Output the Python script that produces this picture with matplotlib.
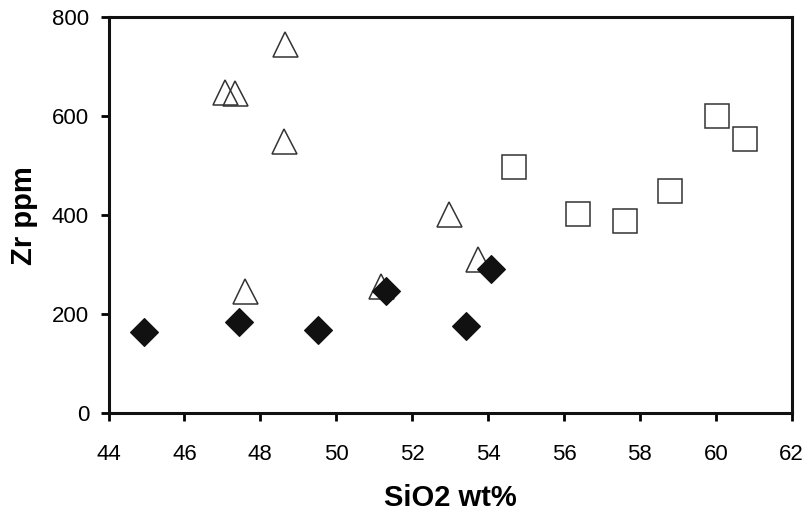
"""Zr vs SiO2 scatter for three rock groups."""

from matplotlib import pyplot as plt

plt.rcParams["font.family"] = ["Liberation Sans", "DejaVu Sans"]

# filled diamonds
diamond_sio2 = [44.93, 47.44, 49.52, 51.30, 53.43, 54.09]
diamond_zr = [163, 185, 168, 247, 176, 292]

# open triangles
triangle_sio2 = [48.66, 47.08, 47.34, 48.63, 47.59, 51.18, 52.97, 53.74]
triangle_zr = [745, 648, 647, 549, 246, 257, 402, 312]

# open squares
square_sio2 = [54.69, 56.37, 57.61, 58.80, 60.02, 60.76]
square_zr = [498, 402, 388, 448, 600, 554]

x_ticks = [44, 46, 48, 50, 52, 54, 56, 58, 60, 62]
y_ticks = [0, 200, 400, 600, 800]

figure = plt.figure(figsize=(8.11, 5.13), dpi=100)
axis = figure.add_axes([0.1338, 0.1949, 0.8424, 0.7714])

axis.plot(triangle_sio2, triangle_zr, linestyle="none", marker="^", markersize=18,
          markerfacecolor="none", markeredgecolor="#333333", markeredgewidth=1.1)
axis.plot(square_sio2, square_zr, linestyle="none", marker="s", markersize=17,
          markerfacecolor="none", markeredgecolor="#333333", markeredgewidth=1.1)
axis.plot(diamond_sio2, diamond_zr, linestyle="none", marker="D", markersize=14,
          markerfacecolor="#111111", markeredgecolor="#111111", markeredgewidth=0.8)

axis.set_xlim(44, 62)
axis.set_ylim(0, 800)
axis.set_xticks(x_ticks)
axis.set_yticks(y_ticks)
axis.tick_params(axis="both", direction="out", length=6, width=2, labelsize=16)
axis.tick_params(axis="x", pad=16)
axis.tick_params(axis="y", pad=8)
for spine in axis.spines.values():
    spine.set_linewidth(2.2)
    spine.set_color("#111111")

axis.set_xlabel("SiO2 wt%", fontsize=21, fontweight="bold", labelpad=14)
axis.set_ylabel("Zr ppm", fontsize=21, fontweight="bold", labelpad=10)

figure.savefig("out.png", dpi=100)
